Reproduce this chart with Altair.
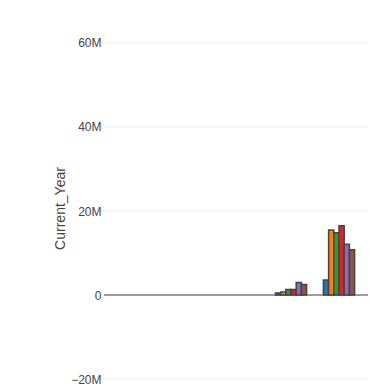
import altair as alt
import pandas as pd

groups = ["Group 1", "Group 2"]
series = ["Series 1", "Series 2", "Series 3", "Series 4", "Series 5", "Series 6"]
values_g1 = [0.5e6, 0.7e6, 1.3e6, 1.3e6, 3.0e6, 2.5e6]
values_g2 = [3.6e6, 15.5e6, 14.8e6, 16.5e6, 12.1e6, 10.8e6]
colors = ["#1f77b4", "#ff7f0e", "#2ca02c", "#d62728", "#9467bd", "#8c564b"]
y_ticks = [-20e6, 0, 20e6, 40e6, 60e6]

rows = []
for g, vals in zip(groups, [values_g1, values_g2]):
    for s, v in zip(series, vals):
        rows.append({"Group": g, "Series": s, "Current_Year": v})
df = pd.DataFrame(rows)
ticks_df = pd.DataFrame({"Current_Year": y_ticks})

yscale = alt.Scale(domain=[-22.14e6, 63.57e6], nice=False, zero=False)
yaxis = alt.Axis(values=y_ticks, labelExpr="datum.value == 0 ? '0' : format(datum.value, '~s')")

grid = alt.Chart(ticks_df).mark_rule(color="#eeeeee", strokeWidth=1).encode(
    y=alt.Y("Current_Year:Q", scale=yscale, title="Current_Year", axis=yaxis)
)

rule = alt.Chart(pd.DataFrame({"z": [0]})).mark_rule(color="#444", strokeWidth=1).encode(
    y=alt.datum(0, scale=yscale)
)

bars = alt.Chart(df).mark_bar(stroke="#444", strokeWidth=1.5).encode(
    x=alt.X("Group:N", scale=alt.Scale(domain=groups, paddingInner=0.35, paddingOuter=0,
                                       range=[171.4, 250.6]), axis=None),
    xOffset=alt.XOffset("Series:N", scale=alt.Scale(domain=series, paddingInner=0, paddingOuter=0)),
    y=alt.Y("Current_Year:Q", scale=yscale, title="Current_Year", axis=yaxis),
    color=alt.Color("Series:N", scale=alt.Scale(domain=series, range=colors), legend=None),
)

chart = alt.layer(grid, rule, bars).properties(
    width=264, height=360, autosize=alt.AutoSizeParams(type="none"),
    padding={"left": 104, "top": 28, "right": 0, "bottom": 0},
    background="white",
).configure_view(stroke=None).configure_axisY(
    grid=False, domain=False, ticks=False,
    labelFont="Liberation Sans", labelFontSize=12, labelColor="#444", labelPadding=3,
    titleFont="Liberation Sans", titleFontSize=14, titleColor="#444",
    titleFontWeight="normal", titlePadding=3,
)

chart.save("out.html", embed_options={"renderer": "svg", "actions": False})
